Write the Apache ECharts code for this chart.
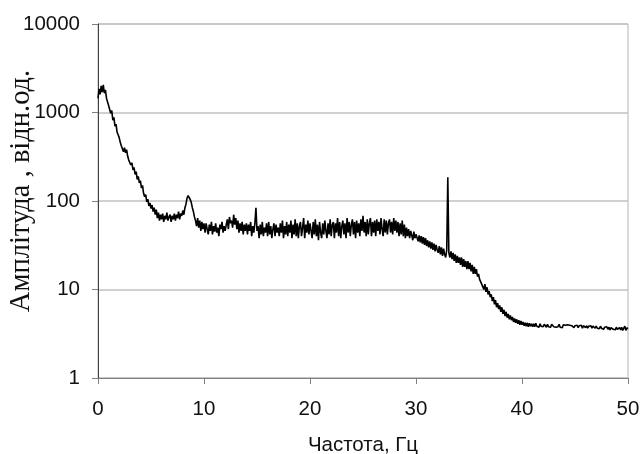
<!DOCTYPE html>
<html>
<head>
<meta charset="utf-8">
<script src="https://cdn.jsdelivr.net/npm/echarts@6/dist/echarts.min.js"></script>
<style>
  html, body { margin: 0; padding: 0; background: #fff; }
  #chart { width: 640px; height: 454px; }
</style>
</head>
<body>
<div id="chart"></div>
<script>
// Amplitude spectrum, sampled every 0.1 Hz from 0 to 50 Hz
const freqStart = 0;
const freqStep = 0.1;
const amplitude = [
  1450, // 0.0
  1850, 1600, 2000, 1700, 2050, 1650, 1800, 1450, 1500, 1200,   // 0.1 - 1.0
  1250, 980, 1050, 820, 880, 700, 740, 600, 560, 520,           // 1.1 - 2.0
  460, 420, 390, 360, 400, 350, 380, 320, 290, 300,             // 2.1 - 3.0
  255, 270, 225, 240, 200, 215, 175, 190, 160, 170,             // 3.1 - 4.0
  140, 150, 122, 112, 118, 98, 105, 88, 95, 82,                 // 4.1 - 5.0
  90, 76, 84, 70, 80, 64, 74, 60, 70, 62,                       // 5.1 - 6.0
  72, 58, 68, 62, 74, 60, 66, 70, 58, 68,                       // 6.1 - 7.0
  62, 72, 60, 70, 64, 76, 62, 72, 68, 78,                       // 7.1 - 8.0
  70, 84, 92, 108, 115, 120, 104, 96, 84, 76,                   // 8.1 - 9.0
  66, 60, 52, 64, 50, 60, 46, 58, 48, 56,                       // 9.1 - 10.0
  44, 56, 48, 42, 54, 46, 58, 42, 52, 45,                       // 10.1 - 11.0
  56, 44, 50, 40, 54, 48, 58, 44, 52, 46,                       // 11.1 - 12.0
  54, 62, 48, 66, 56, 60, 50, 70, 54, 64,                       // 12.1 - 13.0
  48, 60, 44, 56, 46, 58, 42, 54, 46, 56,                       // 13.1 - 14.0
  42, 54, 46, 58, 40, 52, 44, 56, 84, 46,                       // 14.1 - 15.0
  52, 38, 54, 42, 58, 40, 50, 44, 56, 40,                       // 15.1 - 16.0
  58, 42, 52, 38, 48, 56, 40, 54, 44, 50,                       // 16.1 - 17.0
  40, 56, 44, 60, 38, 52, 42, 58, 40, 54,                       // 17.1 - 18.0
  44, 60, 38, 54, 42, 62, 40, 56, 38, 52,                       // 18.1 - 19.0
  58, 40, 50, 64, 38, 54, 44, 60, 42, 56,                       // 19.1 - 20.0
  46, 38, 58, 42, 62, 40, 54, 36, 58, 44,                       // 20.1 - 21.0
  38, 56, 42, 60, 46, 38, 56, 42, 62, 40,                       // 21.1 - 22.0
  54, 58, 38, 56, 44, 64, 40, 58, 38, 52,                       // 22.1 - 23.0
  60, 42, 56, 38, 64, 44, 58, 40, 54, 62,                       // 23.1 - 24.0
  42, 58, 38, 60, 44, 56, 40, 62, 46, 68,                       // 24.1 - 25.0
  44, 58, 40, 62, 42, 56, 64, 40, 58, 44,                       // 25.1 - 26.0
  60, 40, 62, 46, 58, 42, 64, 48, 40, 62,                       // 26.1 - 27.0
  44, 60, 42, 56, 62, 44, 58, 42, 64, 46,                       // 27.1 - 28.0
  60, 44, 58, 40, 56, 42, 60, 40, 54, 38,                       // 28.1 - 29.0
  50, 40, 48, 38, 46, 41, 36, 45, 38, 42,                       // 29.1 - 30.0
  44, 35, 41, 34, 40, 33, 39, 32, 38, 31,                       // 30.1 - 31.0
  36, 30, 35, 29, 34, 28, 33, 27, 32, 28,                       // 31.1 - 32.0
  26, 31, 25, 30, 24, 29, 25, 23, 28, 185,                      // 32.1 - 33.0
  26, 23, 27, 22, 26, 21, 25, 20, 24, 20,                       // 33.1 - 34.0
  23, 19, 23, 18, 22, 18, 21, 17, 21, 17,                       // 34.1 - 35.0
  20, 16, 19, 15, 18, 15, 17, 14, 15, 13,                       // 35.1 - 36.0
  13.5, 11.5, 12, 10, 11.5, 9.4, 10.6, 8.8, 9.6, 8.2,           // 36.1 - 37.0
  8.8, 7.4, 8.2, 6.8, 7.6, 6.3, 7.0, 6.0, 6.6, 5.6,             // 37.1 - 38.0
  6.3, 5.3, 5.9, 5.0, 5.6, 4.8, 5.3, 4.6, 5.1, 4.5,             // 38.1 - 39.0
  4.9, 4.3, 4.7, 4.2, 4.6, 4.1, 4.5, 4.0, 4.4, 4.0,             // 39.1 - 40.0
  4.3, 3.9, 4.2, 3.85, 4.2, 3.8, 4.15, 3.85, 4.1, 3.8,          // 40.1 - 41.0
  4.1, 3.8, 4.15, 3.85, 4.05, 3.75, 4.1, 3.85, 4.0, 3.8,        // 41.1 - 42.0
  4.05, 3.85, 3.75, 4.05, 3.8, 4.0, 3.75, 4.05, 3.85, 3.8,      // 42.1 - 43.0
  4.0, 3.75, 3.95, 3.8, 4.05, 3.75, 3.95, 3.7, 4.0, 3.8,        // 43.1 - 44.0
  3.95, 3.75, 4.0, 3.8, 3.95, 3.75, 3.9, 3.95, 3.7, 3.9,        // 44.1 - 45.0
  3.75, 3.95, 3.7, 3.9, 3.75, 3.95, 3.65, 3.9, 3.75, 3.7,       // 45.1 - 46.0
  3.9, 3.65, 3.85, 3.7, 3.9, 3.65, 3.85, 3.7, 3.65, 3.85,       // 46.1 - 47.0
  3.65, 3.8, 3.6, 3.85, 3.65, 3.8, 3.55, 3.75, 3.6, 3.8,        // 47.1 - 48.0
  3.55, 3.75, 3.5, 3.7, 3.75, 3.55, 3.7, 3.5, 3.75, 3.55,       // 48.1 - 49.0
  3.45, 3.7, 3.5, 3.75, 3.45, 3.65, 3.85, 3.45, 3.7, 3.6        // 49.1 - 50.0
];

const xTicks = [0, 10, 20, 30, 40, 50];
const yTicks = [1, 10, 100, 1000, 10000];
const xTitle = 'Частота, Гц';
const yTitle = 'Амплітуда , відн.од.';

const points = amplitude.map((v, i) => [+(freqStart + i * freqStep).toFixed(1), v]);

const sans = 'Liberation Sans, Arial, sans-serif';
const serif = 'Liberation Serif, Times New Roman, serif';

const chart = echarts.init(document.getElementById('chart'), null, { renderer: 'canvas' });
chart.setOption({
  animation: false,
  backgroundColor: '#ffffff',
  grid: {
    left: 98, right: 12, top: 24, bottom: 76,
    containLabel: false,
    outerBoundsMode: 'none',
    show: true, borderColor: '#b4b4b4', borderWidth: 1, backgroundColor: 'transparent'
  },
  xAxis: {
    type: 'value',
    min: xTicks[0], max: xTicks[xTicks.length - 1], interval: 10,
    name: xTitle,
    nameLocation: 'middle',
    nameGap: 57,
    nameMoveOverlap: false,
    nameTextStyle: { fontFamily: sans, fontSize: 20.5, color: '#111' },
    axisLine: { show: true, lineStyle: { color: '#808080', width: 1 } },
    axisTick: { show: true, inside: false, length: 6, lineStyle: { color: '#808080' } },
    axisLabel: { margin: 21, fontFamily: sans, fontSize: 20.5, color: '#111',
      formatter: v => xTicks.includes(v) ? String(v) : '' },
    splitLine: { show: false }
  },
  yAxis: {
    type: 'log', logBase: 10,
    min: yTicks[0], max: yTicks[yTicks.length - 1],
    name: yTitle,
    nameLocation: 'middle',
    nameGap: 62,
    nameRotate: 90,
    nameMoveOverlap: false,
    nameTextStyle: { fontFamily: serif, fontSize: 28.5, color: '#111',
      padding: [0, 0, 0, 20] },
    axisLine: { show: true, lineStyle: { color: '#404040', width: 1 } },
    axisTick: { show: true, inside: false, length: 6, lineStyle: { color: '#808080' } },
    axisLabel: { margin: 18, fontFamily: sans, fontSize: 20.5, color: '#111',
      formatter: v => String(Math.round(v)) },
    splitLine: { show: true, lineStyle: { color: '#c0c0c0', width: 1.5 } },
    minorTick: { show: false },
    minorSplitLine: { show: false }
  },
  series: [{
    type: 'line',
    data: points,
    showSymbol: false,
    symbol: 'none',
    smooth: false,
    lineStyle: { color: '#000000', width: 1.6 },
    silent: true
  }]
});
</script>
</body>
</html>
